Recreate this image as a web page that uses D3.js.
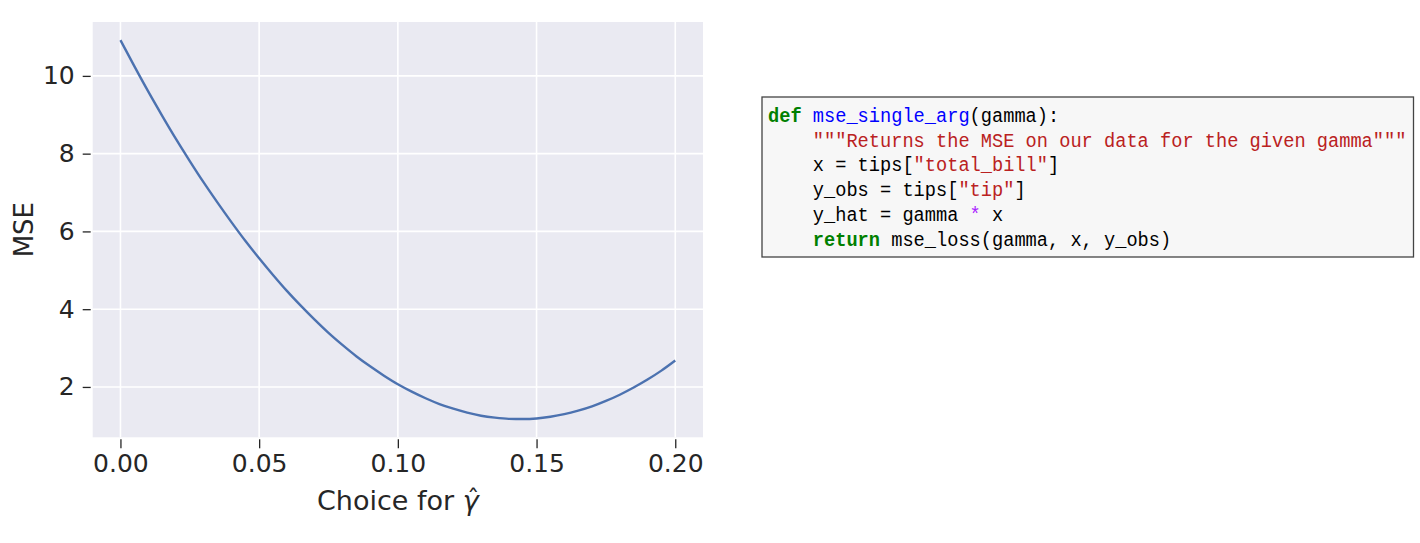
<!DOCTYPE html>
<html><head><meta charset="utf-8">
<script src="https://cdn.jsdelivr.net/npm/d3@7"></script>
<style>
html,body{margin:0;padding:0;background:#fff;}
svg{display:block;}
</style></head>
<body>
<svg id="chart" width="1420" height="543"></svg>
<script>
// ---- data ----
const gammas = [0,0.005,0.01,0.015,0.02,0.025,0.03,0.035,0.04,0.045,0.05,0.055,0.06,0.065,0.07,0.075,0.08,0.085,0.09,0.095,0.10,0.105,0.11,0.115,0.12,0.125,0.13,0.135,0.14,0.145,0.15,0.155,0.16,0.165,0.17,0.175,0.18,0.185,0.19,0.195,0.20];
const mseValues = [10.92,10.25,9.60,8.98,8.38,7.81,7.26,6.74,6.24,5.76,5.31,4.88,4.47,4.09,3.73,3.39,3.08,2.79,2.53,2.29,2.07,1.88,1.71,1.56,1.44,1.34,1.26,1.21,1.18,1.175,1.19,1.235,1.30,1.39,1.50,1.64,1.80,1.985,2.19,2.42,2.68];
const xTicks = [0.00,0.05,0.10,0.15,0.20];
const xTickLabels = ["0.00","0.05","0.10","0.15","0.20"];
const yTicks = [2,4,6,8,10];
const yTickLabels = ["2","4","6","8","10"];
const xLabel = "Choice for ";
const yLabel = "MSE";
const codeLines = [
  [["def","kw"],[" ","pl"],["mse_single_arg","fn"],["(gamma):","pl"]],
  [["    ","pl"],["\"\"\"Returns the MSE on our data for the given gamma\"\"\"","st"]],
  [["    x = tips[","pl"],["\"total_bill\"","st"],["]","pl"]],
  [["    y_obs = tips[","pl"],["\"tip\"","st"],["]","pl"]],
  [["    y_hat = gamma ","pl"],["*","op"],[" x","pl"]],
  [["    ","pl"],["return","kw"],[" mse_loss(gamma, x, y_obs)","pl"]]
];

const svg = d3.select("#chart");
const L = 92.7, R = 703, T = 22, B = 437.3;

const x = d3.scaleLinear().domain([-0.01, 0.21]).range([L, R]);
const y = d3.scaleLinear().domain([0.705, 11.386]).range([B, T]);

svg.append("rect").attr("x", L).attr("y", T).attr("width", R - L).attr("height", B - T).attr("fill", "#eaeaf2");

// grid
svg.append("g").selectAll("line").data(xTicks).join("line")
  .attr("x1", d => x(d)).attr("x2", d => x(d)).attr("y1", T).attr("y2", B)
  .attr("stroke", "#fff").attr("stroke-width", 1.6);
svg.append("g").selectAll("line").data(yTicks).join("line")
  .attr("x1", L).attr("x2", R).attr("y1", d => y(d)).attr("y2", d => y(d))
  .attr("stroke", "#fff").attr("stroke-width", 1.6);

// axes
const xAxis = d3.axisBottom(x).tickValues(xTicks).tickFormat((d, i) => xTickLabels[i]).tickSize(9).tickPadding(6);
const gx = svg.append("g").attr("transform", `translate(0,${B + 2})`).call(xAxis);
gx.select(".domain").remove();
gx.selectAll(".tick line").attr("stroke", "#262626").attr("stroke-width", 1.3);
gx.selectAll(".tick text").attr("fill", "#262626").style("font-family", "DejaVu Sans").style("font-size", "25px");

const yAxis = d3.axisLeft(y).tickValues(yTicks).tickFormat((d, i) => yTickLabels[i]).tickSize(8).tickPadding(8);
const gy = svg.append("g").attr("transform", `translate(${L - 2},0)`).call(yAxis);
gy.select(".domain").remove();
gy.selectAll(".tick line").attr("stroke", "#262626").attr("stroke-width", 1.3);
gy.selectAll(".tick text").attr("fill", "#262626").style("font-family", "DejaVu Sans").style("font-size", "25px");

// line
const line = d3.line().x((d, i) => x(gammas[i])).y(d => y(d)).curve(d3.curveMonotoneX);
svg.append("path").datum(mseValues).attr("d", line)
  .attr("fill", "none").attr("stroke", "#4c72b0").attr("stroke-width", 2.4).attr("stroke-linecap", "butt");

// x label with hat over gamma (single text element)
const xl = svg.append("text").attr("x", 315).attr("y", 510)
  .attr("text-anchor", "start").attr("fill", "#262626")
  .style("font-family", "DejaVu Sans").style("font-size", "27px");
xl.append("tspan").text(xLabel);
xl.append("tspan").style("font-style", "italic").text("γ");
const hT = xl.append("tspan").style("font-size", "25px").text("ˆ");
{
  const n = xl.node();
  const gw = n.getSubStringLength(xLabel.length, 1);
  const hw = n.getSubStringLength(xLabel.length + 1, 1);
  hT.attr("dx", -(gw / 2 + hw / 2) + 2.5).attr("dy", -3);
  const visW = n.getSubStringLength(0, xLabel.length + 1);
  xl.attr("x", (L + R) / 2 - visW / 2);
}

svg.append("text").attr("transform", `translate(33,${(T + B) / 2}) rotate(-90)`)
  .attr("text-anchor", "middle").attr("fill", "#262626")
  .style("font-family", "DejaVu Sans").style("font-size", "26px").text(yLabel);

// code box
svg.append("rect").attr("x", 762).attr("y", 97).attr("width", 651.5).attr("height", 160)
  .attr("fill", "#f7f7f7").attr("stroke", "#444").attr("stroke-width", 1.3);
const colors = {kw: "#008000", fn: "#0000ff", st: "#ba2121", op: "#aa22ff", pl: "#000"};
const charW = 11.2;
codeLines.forEach((segs, li) => {
  const t = svg.append("text")
    .attr("x", 768).attr("y", 122 + li * 24.7)
    .style("font-family", "Liberation Mono, DejaVu Sans Mono, monospace")
    .style("font-size", "19.5px")
    .attr("xml:space", "preserve")
    .style("white-space", "pre");
  let n = 0;
  segs.forEach(([txt, k]) => {
    t.append("tspan").attr("fill", colors[k])
      .style("font-weight", k === "kw" ? "bold" : "normal")
      .text(txt);
    n += txt.length;
  });
  t.attr("textLength", n * charW).attr("lengthAdjust", "spacingAndGlyphs");
});
</script>
</body></html>
